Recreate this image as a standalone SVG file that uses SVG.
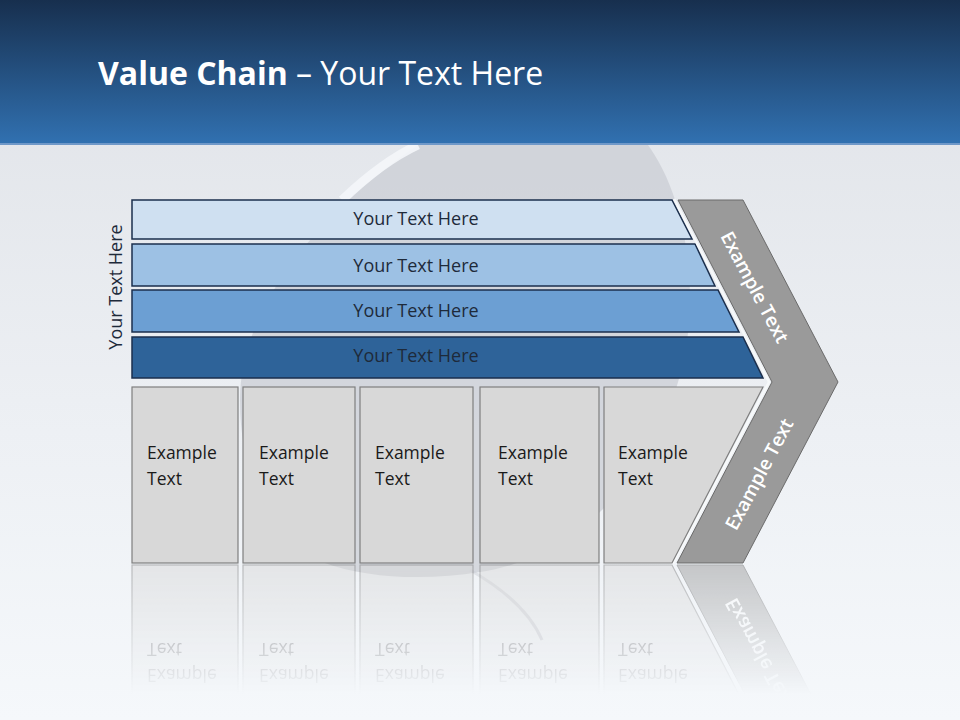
<svg xmlns="http://www.w3.org/2000/svg" xmlns:xlink="http://www.w3.org/1999/xlink" width="960" height="720" viewBox="0 0 960 720">
<defs>
<linearGradient id="hdr" x1="0" y1="0" x2="0" y2="1">
<stop offset="0" stop-color="#172f4e"/>
<stop offset="1" stop-color="#3171b1"/>
</linearGradient>
<linearGradient id="bg" x1="0" y1="0" x2="0" y2="1">
<stop offset="0" stop-color="#dfe2e7"/>
<stop offset="0.6" stop-color="#edf0f4"/>
<stop offset="1" stop-color="#f5f8fb"/>
</linearGradient>
<linearGradient id="fade" gradientUnits="userSpaceOnUse" x1="0" y1="565" x2="0" y2="695">
<stop offset="0" stop-color="#fff" stop-opacity="0.5"/>
<stop offset="1" stop-color="#fff" stop-opacity="0"/>
</linearGradient>
<mask id="reflMask" maskUnits="userSpaceOnUse" x="0" y="564" width="960" height="156">
<rect x="0" y="564" width="960" height="156" fill="url(#fade)"/>
</mask>
<style>
.bar{stroke:#1b2f4d;stroke-width:1.5}
.bt{font-family:"Open Sans","Liberation Sans",sans-serif;font-size:18px;fill:#1e2a3a;text-anchor:middle}
.box{fill:#d8d8d8;stroke:#7f7f7f;stroke-width:1.2}
.et{font-family:"Open Sans","Liberation Sans",sans-serif;font-size:17.5px;fill:#1a1a1a}
.chev{fill:#9a9a9a;stroke:#6a6a6a;stroke-width:1}
.ct{font-family:"Open Sans","Liberation Sans",sans-serif;font-size:19px;font-weight:600;fill:#ffffff;text-anchor:middle}
</style>
</defs>

<!-- background -->
<rect x="0" y="0" width="960" height="720" fill="url(#bg)"/>
<path d="M418 145 L648 145 C672 178 690 232 690 300 C690 430 600 555 480 572 C430 580 370 580 322 562 C272 540 240 480 240 400 C240 300 330 205 418 145 Z" fill="#c9ccd3" opacity="0.7"/>
<path d="M470 570 C505 590 530 612 542 640" fill="none" stroke="#c9ccd3" stroke-width="3" opacity="0.45"/>
<path d="M342 200 C365 178 390 158 418 145" fill="none" stroke="#f4f6f9" stroke-width="9" opacity="0.9"/>

<!-- header -->
<rect x="0" y="0" width="960" height="144" fill="url(#hdr)"/>
<rect x="0" y="143" width="960" height="2" fill="#6f98c8"/>
<text x="98" y="85" font-family="'Open Sans','Liberation Sans',sans-serif" font-size="32" fill="#ffffff"><tspan font-weight="700">Value Chain</tspan> – Your Text Here</text>

<!-- side label -->
<g id="side-label">
<text class="bt" transform="translate(122,287) rotate(-90)" x="0" y="0" fill="#000">Your Text Here</text>
</g>

<!-- bars -->
<g id="bar1">
<polygon class="bar" points="132,200 672,200 692,239 132,239" fill="#cfe0f1"/>
<text class="bt" x="416" y="225">Your Text Here</text>
</g>
<g id="bar2">
<polygon class="bar" points="132,244 695,244 715,286 132,286" fill="#9dc1e4"/>
<text class="bt" x="416" y="272">Your Text Here</text>
</g>
<g id="bar3">
<polygon class="bar" points="132,290 718,290 739,332 132,332" fill="#6c9fd3"/>
<text class="bt" x="416" y="317">Your Text Here</text>
</g>
<g id="bar4">
<polygon class="bar" points="132,337 743,337 763,378 132,378" fill="#2e6399"/>
<text class="bt" x="416" y="362">Your Text Here</text>
</g>

<!-- highlight line along chevron -->
<polyline points="674,199 769,382 673,564" fill="none" stroke="#f7f9fb" stroke-width="2.5" opacity="0.9"/>

<g id="lower">
<g id="box1">
<rect class="box" x="132" y="387" width="106" height="176"/>
<text class="et" x="147" y="459">Example</text>
<text class="et" x="147" y="485">Text</text>
</g>
<g id="box2">
<rect class="box" x="243" y="387" width="112" height="176"/>
<text class="et" x="259" y="459">Example</text>
<text class="et" x="259" y="485">Text</text>
</g>
<g id="box3">
<rect class="box" x="360" y="387" width="113" height="176"/>
<text class="et" x="375" y="459">Example</text>
<text class="et" x="375" y="485">Text</text>
</g>
<g id="box4">
<rect class="box" x="480" y="387" width="119" height="176"/>
<text class="et" x="498" y="459">Example</text>
<text class="et" x="498" y="485">Text</text>
</g>
<g id="box5">
<polygon class="box" points="604,387 763,387 672,563 604,563"/>
<text class="et" x="618" y="459">Example</text>
<text class="et" x="618" y="485">Text</text>
</g>
<g id="chevron">
<polygon class="chev" points="678,200 743,200 838,382 743,563 677,563 772,382"/>
<text class="ct" transform="translate(755,287) rotate(62)" x="0" y="7">Example Text</text>
<text class="ct" transform="translate(759,474) rotate(-62)" x="0" y="7">Example Text</text>
</g>
</g>

<!-- reflection -->
<g id="reflection" mask="url(#reflMask)">
<use xlink:href="#lower" href="#lower" transform="translate(0,1128) scale(1,-1)"/>
</g>
</svg>
